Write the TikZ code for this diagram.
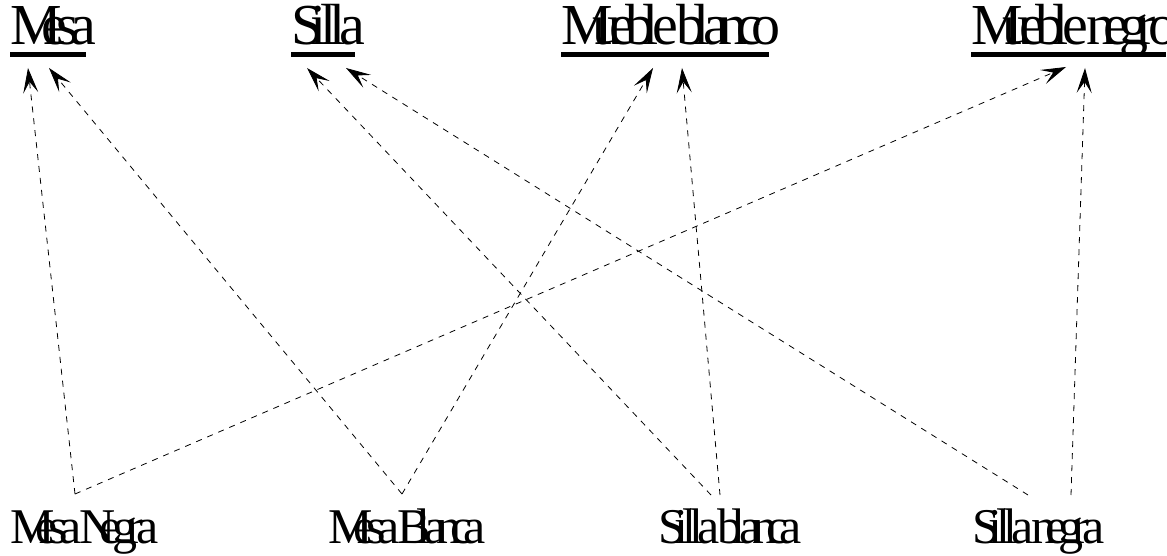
\documentclass[tikz,border=0pt]{standalone}
\usepackage{fontspec}
\setmainfont{Liberation Serif}
\usetikzlibrary{arrows.meta}
% narrow-advance text: each glyph keeps full size, advance scaled
\newlength\sqlen
\def\sqfac{0.58}
\def\sqc#1{\settowidth\sqlen{#1}\rlap{#1}\hspace*{\sqfac\sqlen}}
\def\sqx#1{\ifx#1\relax\else\sqc{#1}\expandafter\sqx\fi}
\def\sqw#1{\sqx#1\relax}
\def\sqsp{\hspace*{\sqfac\fontdimen2\font}}
\tikzset{
  toplbl/.style={inner sep=0pt, anchor=base west, font=\def\sqfac{0.6}\fontsize{58}{60}\selectfont},
  botlbl/.style={inner sep=0pt, anchor=base west, font=\def\sqfac{0.57}\fontsize{50}{54}\selectfont},
  uline/.style={fill=black, draw=none},
  link/.style={draw=black, line width=0.8pt, dash pattern=on 6pt off 6pt,
    -{Stealth[length=25pt,width=15pt,inset=11pt]}}
}
\begin{document}
\begin{tikzpicture}[x=1pt,y=-1pt]
\useasboundingbox (0,0) rectangle (1167,556);
% top labels
\node[toplbl] (mesa) at (10,45) {\sqw{Mesa}};
\node[toplbl] (silla) at (291,45) {\sqw{Silla}};
\node[toplbl] (mb) at (561,45) {\sqw{Mueble}\sqsp\sqw{blanco}};
\node[toplbl] (mn) at (971,45) {\sqw{Mueble}\sqsp\sqw{negro}};
\foreach \n in {mesa,silla,mb,mn}
  \fill[uline] ([yshift=-7pt]\n.base west) rectangle ([yshift=-12.5pt]\n.base east);
% bottom labels
\node[botlbl] (mnegra) at (10,543) {\sqw{Mesa}\sqsp\sqw{Negra}};
\node[botlbl] (mblanca) at (328,543) {\sqw{Mesa}\sqsp\sqw{Blanca}};
\node[botlbl] (sblanca) at (658,543) {\sqw{Silla}\sqsp\sqw{blanca}};
\node[botlbl] (snegra) at (972,543) {\sqw{Silla}\sqsp\sqw{negra}};
% connector ends
\coordinate (mnegraA) at (75,494);
\coordinate (mblancaA) at (402,494);
\coordinate (sblancaA) at (711,495);
\coordinate (sblancaB) at (720,495);
\coordinate (snegraA) at (1028,495);
\coordinate (snegraB) at (1071,495);
\coordinate (mesaA) at (28,68);
\coordinate (mesaB) at (49,68);
\coordinate (sillaA) at (307,68);
\coordinate (sillaB) at (346,68);
\coordinate (mbA) at (653,68);
\coordinate (mbB) at (682,68);
\coordinate (mnA) at (1066,67);
\coordinate (mnB) at (1085,68);
% connectors
\draw[link] (mnegraA) -- (mesaA);
\draw[link] (mnegraA) -- (mnA);
\draw[link] (mblancaA) -- (mesaB);
\draw[link] (mblancaA) -- (mbA);
\draw[link] (sblancaA) -- (sillaA);
\draw[link] (sblancaB) -- (mbB);
\draw[link] (snegraA) -- (sillaB);
\draw[link] (snegraB) -- (mnB);
\end{tikzpicture}
\end{document}
